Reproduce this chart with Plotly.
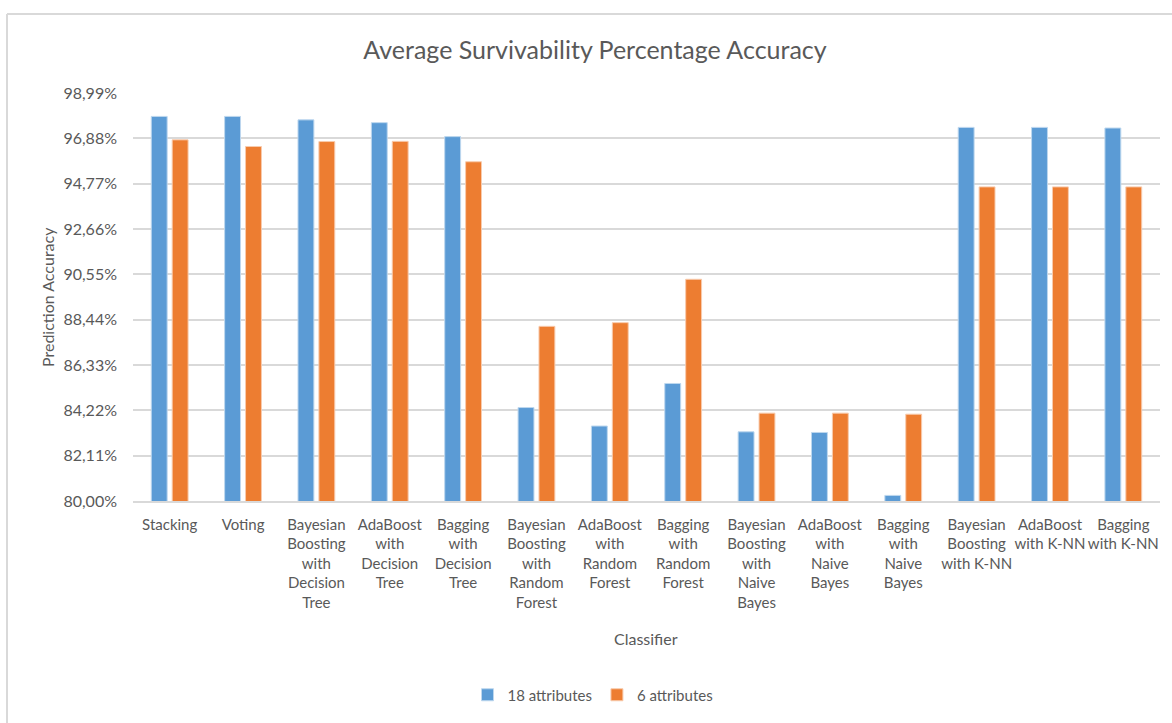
import plotly.graph_objects as go

categories = [
    "Stacking", "Voting",
    "Bayesian<br>Boosting<br>with<br>Decision<br>Tree",
    "AdaBoost<br>with<br>Decision<br>Tree",
    "Bagging<br>with<br>Decision<br>Tree",
    "Bayesian<br>Boosting<br>with<br>Random<br>Forest",
    "AdaBoost<br>with<br>Random<br>Forest",
    "Bagging<br>with<br>Random<br>Forest",
    "Bayesian<br>Boosting<br>with<br>Naive<br>Bayes",
    "AdaBoost<br>with<br>Naive<br>Bayes",
    "Bagging<br>with<br>Naive<br>Bayes",
    "Bayesian<br>Boosting<br>with K-NN",
    "AdaBoost<br>with K-NN",
    "Bagging<br>with K-NN",
]
attr18 = [97.90, 97.90, 97.74, 97.61, 96.96, 84.35, 83.49, 85.47, 83.22, 83.19, 80.26, 97.39, 97.39, 97.36]
attr6 = [96.81, 96.50, 96.73, 96.74, 95.79, 88.13, 88.30, 90.32, 84.09, 84.09, 84.04, 94.62, 94.62, 94.62]
tick_vals = [80.00, 82.11, 84.22, 86.33, 88.44, 90.55, 92.66, 94.77, 96.88, 98.99]
tick_text = ["80,00%", "82,11%", "84,22%", "86,33%", "88,44%", "90,55%", "92,66%", "94,77%", "96,88%", "98,99%"]

FONT = "Lato"
GRAY = "#595959"

W, H = 1172, 723
L, R, T, B = 133, 12, 93, 222
pw, ph = W - L - R, H - T - B


def px(x):
    return (x - L) / pw


def py(y):
    return (H - B - y) / ph


fig = go.Figure()
fig.add_trace(go.Bar(x=categories, y=attr18, name="18 attributes",
                     marker=dict(color="#5B9BD5", line=dict(color="#BDD7EE", width=1))))
fig.add_trace(go.Bar(x=categories, y=attr6, name="6 attributes",
                     marker=dict(color="#ED7D31", line=dict(color="#F8CBAD", width=1))))

fig.update_layout(
    width=W, height=H,
    margin=dict(l=L, r=R, t=T, b=B, autoexpand=False),
    plot_bgcolor="white", paper_bgcolor="white",
    font=dict(family=FONT, color=GRAY, size=15),
    barmode="group", bargap=0.43, bargroupgap=0.24,
    title=dict(text="Average Survivability Percentage Accuracy",
               x=595 / W, xref="container", xanchor="center",
               y=1 - 50 / H, yref="container", yanchor="middle",
               font=dict(size=25, color=GRAY, family=FONT)),
    showlegend=True,
    legend=dict(orientation="h", x=px(593), xanchor="center", y=py(695), yanchor="middle",
                font=dict(size=15, color=GRAY), itemwidth=30, traceorder="normal"),
    xaxis=dict(showgrid=False, showline=True, linecolor="#D9D9D9", linewidth=1.5,
               ticks="", tickfont=dict(size=15, color=GRAY), tickangle=0,
               ticklabelstandoff=9, automargin=False),
    yaxis=dict(range=[80, 98.99], tickvals=tick_vals, ticktext=tick_text,
               showgrid=True, gridcolor="#D9D9D9", gridwidth=1.5,
               zeroline=False, showline=False, ticks="",
               tickfont=dict(size=16, color=GRAY), ticklabelstandoff=15,
               automargin=False),
    annotations=[
        dict(text="Classifier", x=px(646), y=py(638), xref="paper", yref="paper",
             showarrow=False, xanchor="center", yanchor="middle",
             font=dict(size=16, color=GRAY)),
        dict(text="Prediction Accuracy", x=px(47), y=py(297), xref="paper", yref="paper",
             showarrow=False, textangle=-90, xanchor="center", yanchor="middle",
             font=dict(size=16, color=GRAY)),
    ],
    shapes=[
        dict(type="line", xref="paper", yref="paper", x0=px(7), x1=px(1172), y0=py(14), y1=py(14),
             line=dict(color="#D9D9D9", width=2)),
        dict(type="line", xref="paper", yref="paper", x0=px(7), x1=px(7), y0=py(14), y1=py(723),
             line=dict(color="#D9D9D9", width=2)),
    ],
)

fig.write_html("out.html", config={"displayModeBar": False},
               post_script="document.body.style.margin='0';document.body.style.overflow='hidden';")
